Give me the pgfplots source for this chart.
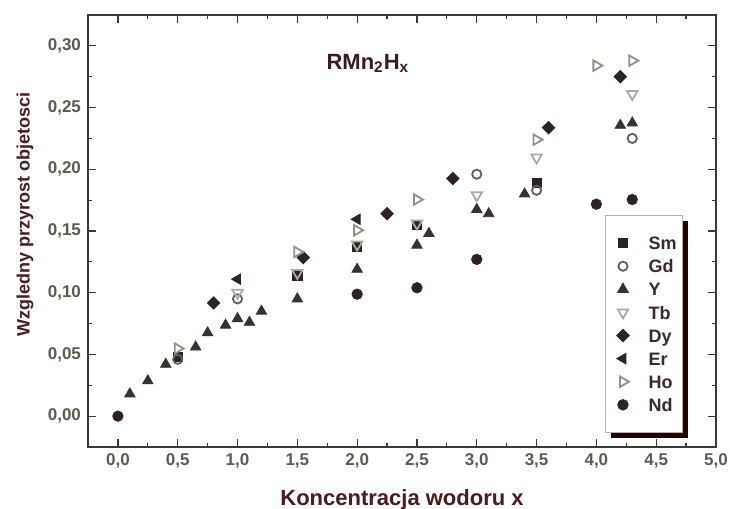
\documentclass[border=0pt]{standalone}
\usepackage{fontspec}
\setmainfont{Liberation Sans}
\usepackage{pgfplots}
\pgfplotsset{compat=1.18}
\usetikzlibrary{shadows}
\definecolor{mk}{HTML}{2E2222}
\definecolor{mky}{HTML}{3A302C}
\definecolor{gdc}{HTML}{5E6256}
\definecolor{tbc}{HTML}{A8ACA0}
\definecolor{hoc}{HTML}{8E9484}
\definecolor{axc}{HTML}{3C3838}
\definecolor{tlc}{HTML}{5E5A4E}
\definecolor{lbc}{HTML}{4A1C1C}
\definecolor{ttc}{HTML}{3A1C1C}
\definecolor{lgt}{HTML}{3A2A2A}
\newcommand{\legtxt}[1]{#1\hspace*{-4.7pt}}
\begin{document}
\begin{tikzpicture}
\begin{axis}[
  at={(0,0)}, anchor=south west,
  scale only axis, width=314pt, height=216pt,
  xmin=-0.25, xmax=5.0, ymin=-0.025, ymax=0.325,
  xtick={0,0.5,1,1.5,2,2.5,3,3.5,4,4.5,5},
  ytick={0,0.05,0.1,0.15,0.2,0.25,0.3},
  minor x tick num=1, minor y tick num=1,
  tick align=inside, major tick length=4pt, minor tick length=2.2pt,
  axis line style={color=axc, line width=0.6pt},
  every tick/.style={color=axc, line width=0.6pt},
  /pgf/number format/assume math mode=true,
  xticklabel style={/pgf/number format/.cd, fixed, fixed zerofill, precision=1, use comma},
  yticklabel style={/pgf/number format/.cd, fixed, fixed zerofill, precision=2, use comma},
  ticklabel style={font=\fontsize{8.5}{10}\selectfont\bfseries, color=tlc},
  xlabel={Koncentracja wodoru x},
  ylabel={Wzgledny przyrost objetosci},
  xlabel style={font=\fontsize{11}{13}\selectfont\bfseries, color=lbc, at={(axis description cs:0.5,0)}, anchor=center, yshift=-26.5pt},
  ylabel style={font=\fontsize{9}{11}\selectfont\bfseries, color=lbc, at={(axis description cs:-0.1003,0.539)}, anchor=center},
  legend cell align=left,
  legend style={at={(axis description cs:0.823,0.537)}, anchor=north west,
    draw=gray!60, line width=0.5pt, fill=white,
    drop shadow={shadow xshift=2.6pt, shadow yshift=-2.8pt, fill=black!85!red, opacity=1},
    font=\fontsize{9}{11}\selectfont\bfseries, text=lgt,
    inner xsep=5.7pt, inner ysep=10.5pt, row sep=4.95pt, column sep=7.7pt,
    nodes={inner xsep=2pt, inner ysep=0pt, text height=6.6pt, text depth=0pt}},
]
% Sm
\addplot[only marks, mark=square*, mark size=2.3pt, draw=mk, fill=mk] coordinates {
 (0.5,0.048) (1.5,0.114) (2.0,0.137) (2.5,0.155) (3.5,0.189)};
\addlegendentry{\legtxt{Sm}}
% Gd
\addplot[only marks, mark=o, mark size=2.3pt, draw=gdc, line width=0.9pt] coordinates {
 (0.5,0.046) (1.0,0.095) (3.0,0.196) (3.5,0.183) (4.3,0.225)};
\addlegendentry{\legtxt{Gd}}
% Y
\addplot[only marks, mark=triangle*, mark size=3pt, draw=mky, fill=mky] coordinates {
 (0.1,0.018) (0.25,0.0286) (0.4,0.042) (0.65,0.056) (0.75,0.0675) (0.9,0.0737)
 (1.0,0.079) (1.1,0.076) (1.2,0.085) (1.5,0.095) (2.0,0.119) (2.5,0.1385)
 (2.6,0.148) (3.0,0.1674) (3.1,0.164) (3.4,0.180) (4.2,0.2356) (4.3,0.2375)};
\addlegendentry{\legtxt{Y}}
% Tb
\addplot[only marks, mark=triangle, mark size=3pt, mark options={rotate=180}, draw=tbc, line width=0.9pt] coordinates {
 (1.0,0.100) (1.5,0.116) (2.0,0.139) (2.5,0.156) (3.0,0.179) (3.5,0.2095) (4.3,0.261)};
\addlegendentry{\legtxt{Tb}}
% Dy
\addplot[only marks, mark=square*, mark size=2.2pt, mark options={rotate=45}, draw=mk, fill=mk] coordinates {
 (0.8,0.0917) (1.55,0.1285) (2.25,0.164) (2.8,0.1925) (3.6,0.2337) (4.2,0.275)};
\addlegendentry{\legtxt{Dy}}
% Er
\addplot[only marks, mark=triangle*, mark size=3pt, mark options={rotate=90}, draw=mk, fill=mk] coordinates {
 (1.0,0.111) (2.0,0.1595)};
\addlegendentry{\legtxt{Er}}
% Ho
\addplot[only marks, mark=triangle, mark size=3pt, mark options={rotate=-90}, draw=hoc, line width=0.9pt] coordinates {
 (0.5,0.0548) (1.5,0.133) (2.0,0.1506) (2.5,0.1755) (3.5,0.224) (4.0,0.284) (4.3,0.288)};
\addlegendentry{\legtxt{Ho}}
% Nd
\addplot[only marks, mark=*, mark size=2.6pt, draw=mk, fill=mk] coordinates {
 (0.0,0.0) (2.0,0.0988) (2.5,0.104) (3.0,0.127) (4.0,0.1717) (4.3,0.1755)};
\addlegendentry{\legtxt{Nd}}
\node[font=\fontsize{11}{13}\selectfont\bfseries, text=ttc] at (axis cs:2.09,0.286) {RMn\textsubscript{2}H\textsubscript{x}};
\end{axis}
\pgfresetboundingbox
\path[use as bounding box] (-44pt,-31pt) rectangle (321pt,223.5pt);
\end{tikzpicture}
\end{document}
